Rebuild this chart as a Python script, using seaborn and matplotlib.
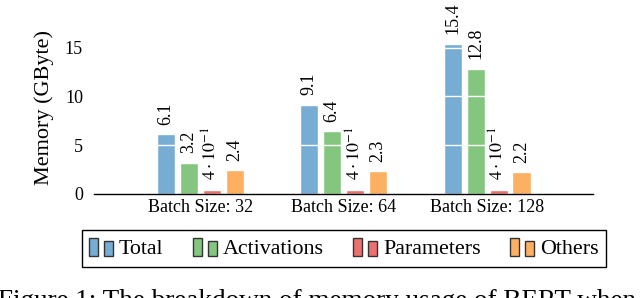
import pandas as pd
import matplotlib
matplotlib.use("Agg")
import matplotlib.pyplot as plt
import seaborn as sns
from matplotlib.patches import Patch, Rectangle
from matplotlib.legend_handler import HandlerBase


# ============================================================================
# Data
# ============================================================================

batches = ["Batch Size: 32", "Batch Size: 64", "Batch Size: 128"]
kinds = ["Total", "Activations", "Parameters", "Others"]

total = [6.1, 9.1, 15.4]
activations = [3.2, 6.4, 12.8]
parameters = [0.4, 0.4, 0.4]
others = [2.4, 2.3, 2.2]

bar_texts = {
    "Total": ["6.1", "9.1", "15.4"],
    "Activations": ["3.2", "6.4", "12.8"],
    "Parameters": [r"$4\cdot10^{-1}$"] * 3,
    "Others": ["2.4", "2.3", "2.2"],
}

colors = ["#77acd3", "#84c67f", "#ec7070", "#fdaf62"]

df = pd.DataFrame({
    "Batch": batches * 4,
    "Kind": [k for k in kinds for _ in batches],
    "Memory": total + activations + parameters + others,
})


# ============================================================================
# Style
# ============================================================================

sns.set_theme(style="white")
plt.rcParams["font.family"] = ["Liberation Serif", "DejaVu Serif"]
plt.rcParams["mathtext.fontset"] = "stix"
plt.rcParams["text.color"] = "black"
plt.rcParams["xtick.color"] = "black"
plt.rcParams["ytick.color"] = "black"
plt.rcParams["axes.labelcolor"] = "black"


# ============================================================================
# Legend handler: two small bars per entry
# ============================================================================

class TwoBarHandler(HandlerBase):
    def create_artists(self, legend, orig_handle, xdescent, ydescent,
                       width, height, fontsize, trans):
        fc = orig_handle.get_facecolor()
        w = width * 0.36
        r1 = Rectangle((-xdescent, -ydescent), w, height,
                       facecolor=fc, edgecolor="#333333", lw=1.0,
                       transform=trans)
        r2 = Rectangle((-xdescent + width - w, -ydescent), w, height * 0.84,
                       facecolor=fc, edgecolor="#333333", lw=1.0,
                       transform=trans)
        return [r1, r2]


# ============================================================================
# Plot
# ============================================================================

fig = plt.figure(figsize=(6.4, 2.98), dpi=100)
ax = fig.add_axes([0.147, 0.35, 0.78, 0.65])

sns.barplot(
    data=df, x="Batch", y="Memory", hue="Kind",
    palette=colors, width=0.64, gap=0.21,
    saturation=1, legend=False, ax=ax
)

for cont, kind in zip(ax.containers, kinds):
    ax.bar_label(cont, labels=bar_texts[kind], padding=7,
                 rotation=90, fontsize=13)

ax.set_xlim(-0.74, 2.74)
ax.set_ylim(0, 19.9)
ax.set_yticks([0, 5, 10, 15])

for yv in [5, 10, 15]:
    ax.axhline(yv, color="white", lw=1.0, zorder=2)

for s in ["top", "right", "left"]:
    ax.spines[s].set_visible(False)
ax.spines["bottom"].set_color("black")
ax.spines["bottom"].set_linewidth(1.0)

ax.tick_params(axis="both", length=0, labelsize=13)
ax.tick_params(axis="y", pad=8)
ax.tick_params(axis="x", pad=4)

ax.set_xlabel("")
ax.set_ylabel("Memory (GByte)", fontsize=16)
ax.yaxis.set_label_coords(-0.08, 0.445)

handles = [Patch(facecolor=c) for c in colors]
fig.legend(
    handles, kinds, loc="center",
    bbox_to_anchor=(0.5375, 0.166), bbox_transform=fig.transFigure,
    ncol=4, fontsize=15.8, frameon=True, fancybox=False,
    edgecolor="black", framealpha=1,
    handlelength=1.07, handleheight=0.9, handletextpad=0.28,
    columnspacing=1.35, borderpad=0.35,
    handler_map={Patch: TwoBarHandler()}
)
fig.legends[0].get_frame().set_linewidth(1.0)

# caption of the paper, cut by the lower edge as in the source image
fig.text(317 / 640, 1 - 289 / 298,
         "Figure 1: The breakdown of memory usage of BERT when",
         ha="center", va="top", fontsize=19.5)

fig.savefig("out.png", dpi=100)
